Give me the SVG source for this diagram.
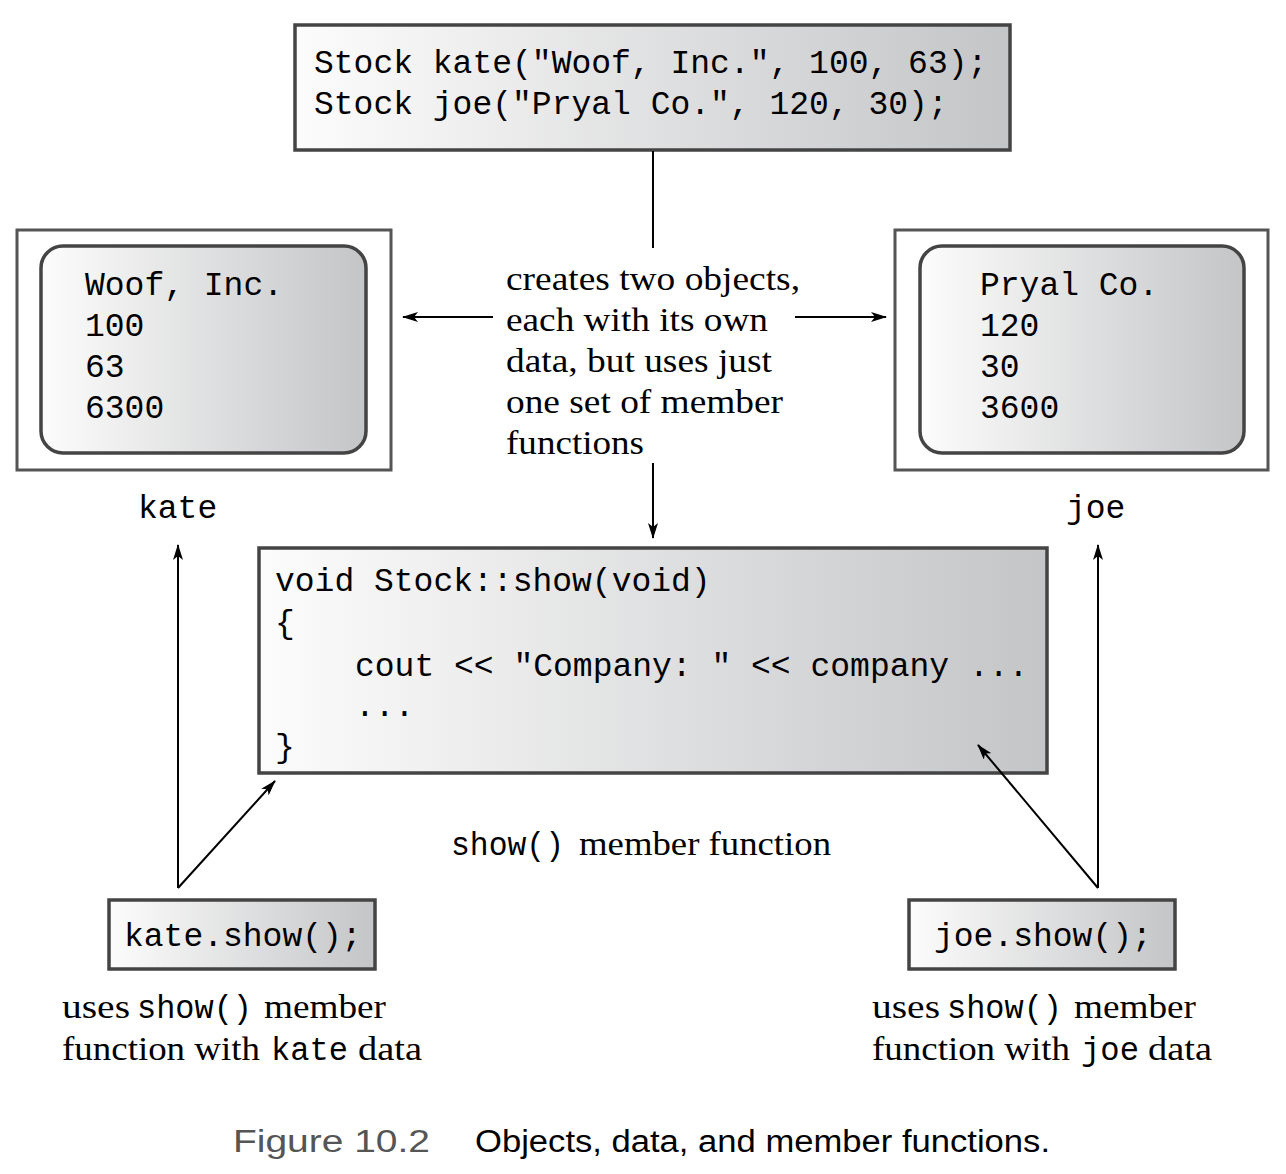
<svg xmlns="http://www.w3.org/2000/svg" width="1286" height="1174" viewBox="0 0 1286 1174">
<defs>
<linearGradient id="g" x1="0" y1="0" x2="1" y2="0">
<stop offset="0" stop-color="#fcfcfc"/>
<stop offset="1" stop-color="#c4c5c7"/>
</linearGradient>
<marker id="ah" viewBox="0 0 16 10" refX="15" refY="5" markerWidth="16" markerHeight="10" markerUnits="userSpaceOnUse" orient="auto">
<path d="M0,0 L16,5 L0,10 L4,5 z" fill="#000"/>
</marker>
<style>
.mono{font-family:"Liberation Mono","DejaVu Sans Mono",monospace;font-size:33px;fill:#000}
.serif{font-family:"Liberation Serif","Times New Roman",serif;font-size:34px;fill:#000}
.box{fill:url(#g);stroke:#444;stroke-width:3.5}
.outer{fill:#fff;stroke:#555;stroke-width:3}
.ln{stroke:#000;stroke-width:2;fill:none}
.arr{stroke:#000;stroke-width:2;fill:none;marker-end:url(#ah)}
</style>
</defs>
<rect width="1286" height="1174" fill="#fff"/>

<g id="declaration">
<rect class="box" x="295" y="25" width="715" height="125"/>
<text class="mono" x="314" y="73">Stock kate("Woof, Inc.", 100, 63);</text>
<text class="mono" x="314" y="114">Stock joe("Pryal Co.", 120, 30);</text>
</g>

<g id="kate-object">
<rect class="outer" x="17" y="230" width="374" height="240"/>
<rect class="box" x="41" y="246" width="325" height="207" rx="22" ry="22"/>
<text class="mono" x="85" y="295">Woof, Inc.</text>
<text class="mono" x="85" y="336">100</text>
<text class="mono" x="85" y="377">63</text>
<text class="mono" x="85" y="418">6300</text>
<text class="mono" x="138" y="518">kate</text>
</g>

<g id="joe-object">
<rect class="outer" x="895" y="230" width="373" height="240"/>
<rect class="box" x="920" y="246" width="324" height="207" rx="22" ry="22"/>
<text class="mono" x="980" y="295">Pryal Co.</text>
<text class="mono" x="980" y="336">120</text>
<text class="mono" x="980" y="377">30</text>
<text class="mono" x="980" y="418">3600</text>
<text class="mono" x="1066" y="518">joe</text>
</g>

<g id="note">
<text class="serif" x="506" y="290" textLength="294" lengthAdjust="spacingAndGlyphs">creates two objects,</text>
<text class="serif" x="506" y="331" textLength="262" lengthAdjust="spacingAndGlyphs">each with its own</text>
<text class="serif" x="506" y="372" textLength="266" lengthAdjust="spacingAndGlyphs">data, but uses just</text>
<text class="serif" x="506" y="413" textLength="277" lengthAdjust="spacingAndGlyphs">one set of member</text>
<text class="serif" x="506" y="454" textLength="138" lengthAdjust="spacingAndGlyphs">functions</text>
</g>

<g id="show-function">
<rect class="box" x="259" y="548" width="788" height="225"/>
<text class="mono" x="275" y="591">void Stock::show(void)</text>
<text class="mono" x="275" y="633">{</text>
<text class="mono" x="355" y="676">cout &lt;&lt; "Company: " &lt;&lt; company ...</text>
<text class="mono" x="355" y="716">...</text>
<text class="mono" x="275" y="757">}</text>
<text class="mono" x="451" y="855" textLength="113" lengthAdjust="spacingAndGlyphs">show()</text>
<text class="serif" x="579" y="855" textLength="252" lengthAdjust="spacingAndGlyphs">member function</text>
</g>

<g id="kate-call">
<rect class="box" x="109" y="900" width="266" height="69"/>
<text class="mono" x="124" y="946">kate.show();</text>
<text class="serif" x="62" y="1018" textLength="68" lengthAdjust="spacingAndGlyphs">uses</text>
<text class="mono" x="137" y="1018" textLength="115" lengthAdjust="spacingAndGlyphs">show()</text>
<text class="serif" x="264" y="1018" textLength="122" lengthAdjust="spacingAndGlyphs">member</text>
<text class="serif" x="62" y="1060" textLength="198" lengthAdjust="spacingAndGlyphs">function with</text>
<text class="mono" x="271" y="1060" textLength="77" lengthAdjust="spacingAndGlyphs">kate</text>
<text class="serif" x="358" y="1060" textLength="64" lengthAdjust="spacingAndGlyphs">data</text>
</g>

<g id="joe-call">
<rect class="box" x="909" y="900" width="266" height="69"/>
<text class="mono" x="934" y="946">joe.show();</text>
<text class="serif" x="872" y="1018" textLength="68" lengthAdjust="spacingAndGlyphs">uses</text>
<text class="mono" x="947" y="1018" textLength="115" lengthAdjust="spacingAndGlyphs">show()</text>
<text class="serif" x="1074" y="1018" textLength="122" lengthAdjust="spacingAndGlyphs">member</text>
<text class="serif" x="872" y="1060" textLength="198" lengthAdjust="spacingAndGlyphs">function with</text>
<text class="mono" x="1081" y="1060" textLength="58" lengthAdjust="spacingAndGlyphs">joe</text>
<text class="serif" x="1148" y="1060" textLength="64" lengthAdjust="spacingAndGlyphs">data</text>
</g>

<g id="caption">
<text x="233" y="1152" font-family="Liberation Sans, Arial, sans-serif" font-size="31" fill="#555" textLength="197" lengthAdjust="spacingAndGlyphs">Figure 10.2</text>
<text x="475" y="1152" font-family="Liberation Sans, Arial, sans-serif" font-size="31" fill="#000" textLength="575" lengthAdjust="spacingAndGlyphs">Objects, data, and member functions.</text>
</g>

<g id="connectors">
<line class="ln" x1="653" y1="151" x2="653" y2="248"/>
<line class="arr" x1="493" y1="317" x2="403" y2="317"/>
<line class="arr" x1="795" y1="317" x2="886" y2="317"/>
<line class="arr" x1="653" y1="463" x2="653" y2="538"/>
<line class="arr" x1="178" y1="888" x2="178" y2="545"/>
<line class="arr" x1="178" y1="888" x2="275" y2="781"/>
<line class="arr" x1="1098" y1="888" x2="1098" y2="545"/>
<line class="arr" x1="1098" y1="888" x2="978" y2="745"/>
</g>
</svg>
